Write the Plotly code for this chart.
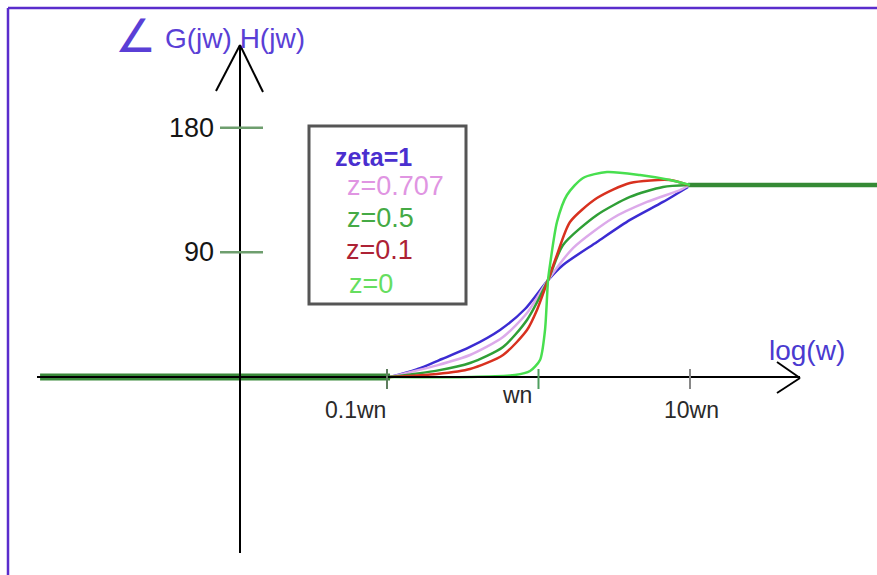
import plotly.graph_objects as go

# ---------------- data (x = log10(w/wn), y = phase in degrees) ----------------
series_names = ["zeta=1", "z=0.707", "z=0.5", "z=0.1", "z=0"]

x_zeta1 = [-0.980, -0.815, -0.637, -0.452, -0.254, -0.089, 0.063, 0.162, 0.386, 0.604, 0.822, 0.987]
y_zeta1 = [0.0, 5.1, 13.0, 21.7, 34.0, 49.1, 70.0, 80.9, 97.5, 113.4, 126.4, 137.2]

x_z0707 = [-0.980, -0.670, -0.452, -0.234, -0.076, 0.063, 0.228, 0.492, 0.716, 0.934, 0.987]
y_z0707 = [0.0, 8.4, 15.9, 28.9, 46.2, 70.0, 93.1, 114.8, 126.4, 135.0, 137.9]

x_z05 = [-0.980, -0.670, -0.452, -0.234, -0.076, 0.063, 0.162, 0.386, 0.604, 0.822, 0.987]
y_z05 = [0.0, 4.6, 10.1, 21.7, 41.2, 70.0, 95.3, 117.0, 130.0, 137.2, 138.6]

x_z01 = [-0.980, -0.670, -0.452, -0.234, -0.076, -0.010, 0.063, 0.122, 0.208, 0.386, 0.604, 0.868, 0.987]
y_z01 = [0.0, 2.2, 5.8, 15.9, 33.9, 48.4, 70.0, 88.1, 111.9, 129.2, 140.1, 142.2, 138.6]

x_z0 = [-0.980, -0.452, -0.155, -0.056, 0.010, 0.043, 0.063, 0.076, 0.122, 0.188, 0.294, 0.452, 0.670, 0.868, 1.000]
y_z0 = [0.0, 0.0, 1.4, 4.3, 12.3, 33.9, 70.0, 80.9, 111.9, 131.4, 143.7, 148.0, 145.8, 142.2, 138.6]

x_low_asym = [-3.29, -0.980]
y_low_asym = [0.0, 0.0]
x_high_asym = [0.987, 2.30]
y_high_asym = [138.6, 138.6]

x_tick_vals = [-1, 0, 1]
x_tick_text = ["0.1wn", "wn", "10wn"]
y_tick_vals = [90, 180]
y_tick_text = ["90", "180"]

# ---------------- styling ----------------
curve_colors = ["#3b2bd2", "#dcaaea", "#2f9f36", "#d8311f", "#48df4f"]
label_colors = ["#4a2fcf", "#e095e2", "#45aa45", "#ad2235", "#66de5f"]
FONT = "Liberation Sans, Arial, sans-serif"

W, H = 877, 575
# pixel mapping used for the full-canvas plot area
X0PX, XSCALE = 538.5, 151.5
Y0PX, YSCALE = 377.0, 1.385
xr = [(0 - X0PX) / XSCALE, (W - X0PX) / XSCALE]
yr = [(Y0PX - H) / YSCALE, Y0PX / YSCALE]


def dx(px):
    return (px - X0PX) / XSCALE


def dy(py):
    return (Y0PX - py) / YSCALE


def px2paper(px, py):
    return px / W, 1 - py / H


fig = go.Figure()

# asymptotes (thick dark green)
fig.add_trace(go.Scatter(x=x_low_asym, y=y_low_asym, mode="lines",
                         line=dict(color="#3a8a3a", width=7), hoverinfo="skip", showlegend=False))
fig.add_trace(go.Scatter(x=x_high_asym, y=y_high_asym, mode="lines",
                         line=dict(color="#358a35", width=4.5), hoverinfo="skip", showlegend=False))

series = [(x_zeta1, y_zeta1), (x_z0707, y_z0707), (x_z05, y_z05), (x_z01, y_z01), (x_z0, y_z0)]
for (xs, ys), name, col in zip(series, series_names, curve_colors):
    fig.add_trace(go.Scatter(x=xs, y=ys, mode="lines", name=name,
                             line=dict(color=col, width=2.5, shape="spline", smoothing=0.7),
                             showlegend=False))

shapes = []
# x axis line and arrow
shapes.append(dict(type="line", x0=dx(37), y0=0, x1=dx(800), y1=0,
                   line=dict(color="black", width=2)))
shapes.append(dict(type="line", x0=dx(777), y0=dy(362), x1=dx(800), y1=dy(378),
                   line=dict(color="black", width=2)))
shapes.append(dict(type="line", x0=dx(777), y0=dy(393), x1=dx(800), y1=dy(378),
                   line=dict(color="black", width=2)))
# y axis line and arrow
shapes.append(dict(type="line", x0=dx(240), y0=dy(45), x1=dx(240), y1=dy(553),
                   line=dict(color="black", width=2)))
shapes.append(dict(type="line", x0=dx(216), y0=dy(91), x1=dx(240), y1=dy(45),
                   line=dict(color="black", width=2)))
shapes.append(dict(type="line", x0=dx(263), y0=dy(92), x1=dx(240), y1=dy(45),
                   line=dict(color="black", width=2)))
# y ticks
for v in y_tick_vals:
    shapes.append(dict(type="line", x0=dx(220), y0=v, x1=dx(263), y1=v,
                       line=dict(color="#6e9e6e", width=2.5)))
# x ticks
x_tick_colors = ["#5f7f5f", "#4f9f5f", "#888888"]
for v, c in zip(x_tick_vals, x_tick_colors):
    shapes.append(dict(type="line", x0=v, y0=dy(369), x1=v, y1=dy(389),
                       line=dict(color=c, width=2)))
# legend box (paper coords)
bx0, by0 = px2paper(309, 126)
bx1, by1 = px2paper(466, 304)
shapes.append(dict(type="rect", xref="paper", yref="paper", x0=bx0, y0=by1, x1=bx1, y1=by0,
                   line=dict(color="#555555", width=3)))
# purple frame (top & left)
shapes.append(dict(type="line", xref="paper", yref="paper", x0=8 / W, y0=1 - 8 / H, x1=1, y1=1 - 8 / H,
                   line=dict(color="#5a2ccc", width=2.5)))
shapes.append(dict(type="line", xref="paper", yref="paper", x0=8 / W, y0=0, x1=8 / W, y1=1 - 8 / H,
                   line=dict(color="#5a2ccc", width=2.5)))

annotations = []
# y tick labels
for v, t in zip(y_tick_vals, y_tick_text):
    annotations.append(dict(x=dx(216), y=v, text=t, showarrow=False, xanchor="right", yanchor="middle",
                            font=dict(family=FONT, size=27, color="#151515")))
# x tick labels
x_label_px = [(355, 410), (517, 395), (691, 410)]
for (lx, ly), t in zip(x_label_px, x_tick_text):
    annotations.append(dict(x=dx(lx), y=dy(ly), text=t, showarrow=False, xanchor="center", yanchor="middle",
                            font=dict(family=FONT, size=23, color="#2a2a2a")))
# legend labels
legend_pos = [(333, 157), (345, 186), (345, 218), (344, 250), (347, 284)]
for (lx, ly), t, c, i in zip(legend_pos, series_names, label_colors, range(5)):
    px, py = px2paper(lx, ly)
    txt = "<b>" + t + "</b>" if i == 0 else t
    annotations.append(dict(x=px, y=py, xref="paper", yref="paper", text=txt, showarrow=False,
                            xanchor="left", yanchor="middle",
                            font=dict(family=FONT, size=25 if i == 0 else 27, color=c)))
# axis titles
px, py = px2paper(767, 350)
annotations.append(dict(x=px, y=py, xref="paper", yref="paper", text="log(w)", showarrow=False,
                        xanchor="left", yanchor="middle", font=dict(family=FONT, size=28, color="#4a3ad0")))
px, py = px2paper(113, 36)
annotations.append(dict(x=px, y=py, xref="paper", yref="paper", text="∠", showarrow=False,
                        xanchor="left", yanchor="middle",
                        font=dict(family="DejaVu Sans, sans-serif", size=46, color="#5a3fd6")))
px, py = px2paper(163, 38)
annotations.append(dict(x=px, y=py, xref="paper", yref="paper", text="G(jw) H(jw)", showarrow=False,
                        xanchor="left", yanchor="middle", font=dict(family=FONT, size=28, color="#5a3fd6")))

fig.update_layout(
    width=W, height=H, autosize=False,
    margin=dict(l=0, r=0, t=0, b=0, pad=0),
    paper_bgcolor="white", plot_bgcolor="white",
    xaxis=dict(range=xr, visible=False, fixedrange=True),
    yaxis=dict(range=yr, visible=False, fixedrange=True),
    shapes=shapes, annotations=annotations, showlegend=False,
)

fig.write_html("out.html", config={"displayModeBar": False},
               post_script="document.body.style.margin='0';")
